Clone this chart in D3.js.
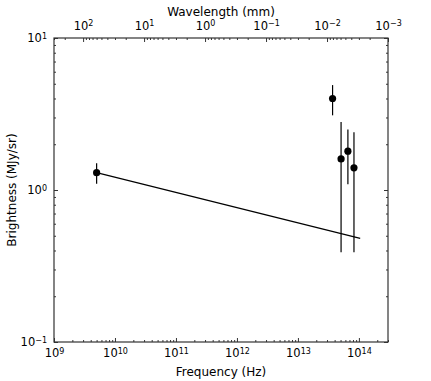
<!DOCTYPE html>
<html>
<head>
    <meta charset="UTF-8">
    <title>Brightness vs frequency</title>
    <script src="https://cdn.jsdelivr.net/npm/d3@7"></script>
    <style>
        body {
            margin: 0;
            padding: 0;
            background: #FFFFFF;
        }

        .tick-label {
            font-family: "DejaVu Sans", sans-serif;
            font-size: 11.5px;
            fill: #000000;
        }

        .axis-title {
            font-family: "DejaVu Sans", sans-serif;
            font-size: 12px;
            fill: #000000;
        }
    </style>
</head>
<body>
<div class="chart"></div>

<script>
    // measured points (frequency in Hz, brightness in MJy/sr)
    const freqHz = [5.0e9, 3.7e13, 5.1e13, 6.6e13, 8.3e13];
    const brightness = [1.30, 4.00, 1.60, 1.80, 1.40];
    const errLow = [1.10, 3.10, 0.39, 1.09, 0.39];
    const errHigh = [1.50, 4.90, 2.80, 2.50, 2.40];

    // straight line drawn across the plot
    const lineFreq = [5.0e9, 1.05e14];
    const lineBright = [1.30, 0.48];

    const freqTickExp = [9, 10, 11, 12, 13, 14];
    const waveTickExp = [2, 1, 0, -1, -2, -3];
    const brightTickExp = [-1, 0, 1];

    const width = 431, height = 381;
    const margin = {top: 38, right: 43, bottom: 39, left: 54},
        plotWidth = width - margin.left - margin.right,
        plotHeight = height - margin.top - margin.bottom;

    const svg = d3.select(".chart")
        .append("svg")
        .attr("width", width)
        .attr("height", height);

    const g = svg.append("g")
        .attr("transform", "translate(" + margin.left + "," + margin.top + ")");

    const x = d3.scaleLog()
        .domain([1e9, 3e14])
        .range([0, plotWidth]);

    // wavelength in mm = c / f
    const xTop = d3.scaleLog()
        .domain([3e11 / 1e9, 3e11 / 3e14])
        .range([0, plotWidth]);

    const y = d3.scaleLog()
        .domain([0.1, 10])
        .range([plotHeight, 0]);

    function minorTicks(scale, majors) {
        return scale.ticks().filter(function (v) {
            return !majors.some(function (m) { return Math.abs(v / m - 1) < 1e-6; });
        });
    }

    function superLabels(sel, exps) {
        sel.selectAll(".tick text").each(function (d, i) {
            const t = d3.select(this).text(null).attr("class", "tick-label");
            t.append("tspan").text("10");
            const e = exps[i];
            t.append("tspan")
                .attr("dy", "-0.45em")
                .attr("font-size", "8px")
                .text(e < 0 ? "\u2212" + Math.abs(e) : e);
        });
    }

    function styleAxis(sel) {
        sel.select(".domain").remove();
        sel.selectAll(".tick line").attr("stroke", "#000").attr("stroke-width", 0.8);
    }

    const freqTicks = freqTickExp.map(e => Math.pow(10, e));
    const waveTicks = waveTickExp.map(e => Math.pow(10, e));
    const brightTicks = brightTickExp.map(e => Math.pow(10, e));

    // bottom axis
    const axisBottom = g.append("g")
        .attr("transform", "translate(0," + plotHeight + ")")
        .call(d3.axisBottom(x).tickValues(freqTicks).tickSizeInner(-4).tickSizeOuter(0).tickPadding(7).tickFormat(() => ""));
    superLabels(axisBottom, freqTickExp);
    styleAxis(axisBottom);

    g.append("g")
        .attr("transform", "translate(0," + plotHeight + ")")
        .call(d3.axisBottom(x).tickValues(minorTicks(x, freqTicks)).tickSizeInner(-2).tickSizeOuter(0).tickFormat(() => ""))
        .call(styleAxis);

    // top axis (wavelength)
    const axisTop = g.append("g")
        .call(d3.axisTop(xTop).tickValues(waveTicks).tickSizeInner(-4).tickSizeOuter(0).tickPadding(8).tickFormat(() => ""));
    superLabels(axisTop, waveTickExp);
    styleAxis(axisTop);

    g.append("g")
        .call(d3.axisTop(xTop).tickValues(minorTicks(xTop, waveTicks)).tickSizeInner(-2).tickSizeOuter(0).tickFormat(() => ""))
        .call(styleAxis);

    // left axis
    const axisLeft = g.append("g")
        .call(d3.axisLeft(y).tickValues(brightTicks).tickSizeInner(-4).tickSizeOuter(0).tickPadding(7).tickFormat(() => ""));
    superLabels(axisLeft, brightTickExp);
    styleAxis(axisLeft);

    g.append("g")
        .call(d3.axisLeft(y).tickValues(minorTicks(y, brightTicks)).tickSizeInner(-2).tickSizeOuter(0).tickFormat(() => ""))
        .call(styleAxis);

    // right side ticks, no labels
    g.append("g")
        .attr("transform", "translate(" + plotWidth + ",0)")
        .call(d3.axisRight(y).tickValues(brightTicks).tickSizeInner(-4).tickSizeOuter(0).tickFormat(() => ""))
        .call(styleAxis);

    g.append("g")
        .attr("transform", "translate(" + plotWidth + ",0)")
        .call(d3.axisRight(y).tickValues(minorTicks(y, brightTicks)).tickSizeInner(-2).tickSizeOuter(0).tickFormat(() => ""))
        .call(styleAxis);

    // frame
    g.append("rect")
        .attr("x", 0)
        .attr("y", 0)
        .attr("width", plotWidth)
        .attr("height", plotHeight)
        .attr("fill", "none")
        .attr("stroke", "#333")
        .attr("stroke-width", 1.2);

    // axis titles
    svg.append("text")
        .attr("class", "axis-title")
        .attr("x", margin.left + plotWidth / 2)
        .attr("y", 376)
        .attr("text-anchor", "middle")
        .text("Frequency (Hz)");

    svg.append("text")
        .attr("class", "axis-title")
        .attr("x", margin.left + plotWidth / 2)
        .attr("y", 16)
        .attr("text-anchor", "middle")
        .text("Wavelength (mm)");

    svg.append("text")
        .attr("class", "axis-title")
        .attr("transform", "translate(16," + (margin.top + plotHeight / 2) + ") rotate(-90)")
        .attr("text-anchor", "middle")
        .text("Brightness (MJy/sr)");

    // line
    const lineData = lineFreq.map((f, i) => ({f: f, b: lineBright[i]}));
    g.append("path")
        .datum(lineData)
        .attr("fill", "none")
        .attr("stroke", "#000")
        .attr("stroke-width", 1.2)
        .attr("d", d3.line().x(d => x(d.f)).y(d => y(d.b)));

    const points = freqHz.map((f, i) => ({f: f, b: brightness[i], lo: errLow[i], hi: errHigh[i]}));

    // error bars
    g.selectAll(".err")
        .data(points)
        .join("line")
        .attr("class", "err")
        .attr("x1", d => x(d.f))
        .attr("x2", d => x(d.f))
        .attr("y1", d => y(d.lo))
        .attr("y2", d => y(d.hi))
        .attr("stroke", "#000")
        .attr("stroke-width", 1.2);

    g.selectAll(".pt")
        .data(points)
        .join("circle")
        .attr("class", "pt")
        .attr("cx", d => x(d.f))
        .attr("cy", d => y(d.b))
        .attr("r", 3.6)
        .attr("fill", "#000");
</script>
</body>
</html>
